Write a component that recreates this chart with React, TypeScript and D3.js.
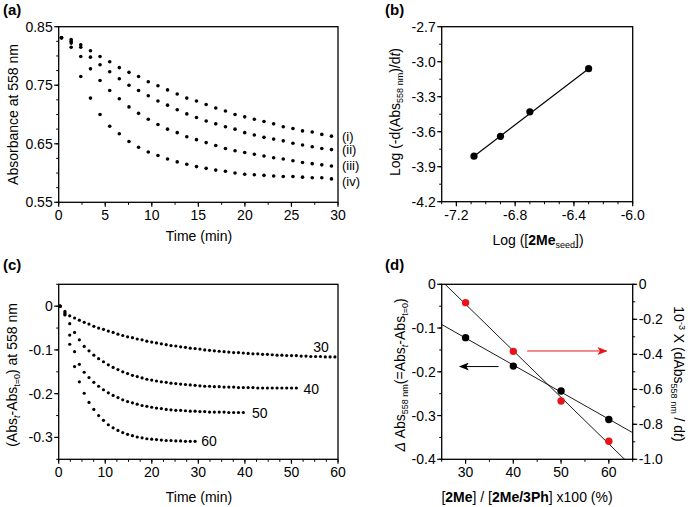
import React from 'react';
import * as d3 from 'd3';

// ---------- Panel (a) data ----------
const timesA = [0.3, 1.34, 2.37, 3.41, 4.44, 5.48, 6.51, 7.55, 8.58, 9.62, 10.66, 11.69, 12.73, 13.76, 14.8, 15.84, 16.87, 17.91, 18.94, 19.98, 21.01, 22.05, 23.09, 24.12, 25.16, 26.19, 27.23, 28.26, 29.3];
const absI = [0.831, 0.828, 0.819, 0.809, 0.799, 0.790, 0.780, 0.772, 0.765, 0.756, 0.749, 0.742, 0.735, 0.728, 0.723, 0.717, 0.711, 0.706, 0.700, 0.696, 0.692, 0.688, 0.684, 0.679, 0.676, 0.672, 0.670, 0.666, 0.663];
const absII = [0.831, 0.825, 0.815, 0.798, 0.785, 0.773, 0.761, 0.750, 0.741, 0.732, 0.723, 0.716, 0.708, 0.701, 0.695, 0.689, 0.684, 0.679, 0.675, 0.669, 0.665, 0.661, 0.658, 0.655, 0.651, 0.648, 0.645, 0.642, 0.640];
const absIII = [0.831, 0.822, 0.799, 0.778, 0.758, 0.741, 0.727, 0.713, 0.702, 0.692, 0.683, 0.675, 0.669, 0.662, 0.657, 0.652, 0.647, 0.642, 0.638, 0.635, 0.632, 0.629, 0.626, 0.624, 0.621, 0.618, 0.616, 0.614, 0.612];
const absIV = [0.831, 0.815, 0.765, 0.728, 0.700, 0.680, 0.667, 0.654, 0.644, 0.636, 0.630, 0.624, 0.619, 0.615, 0.611, 0.608, 0.605, 0.603, 0.600, 0.598, 0.597, 0.596, 0.595, 0.594, 0.594, 0.593, 0.592, 0.592, 0.590];
const seriesNamesA = ['(i)', '(ii)', '(iii)', '(iv)'];
const labelPosA = [0.655, 0.632, 0.605, 0.578];
const xTicksA = [0, 5, 10, 15, 20, 25, 30];
const yTicksA = [0.55, 0.65, 0.75, 0.85];

// ---------- Panel (b) data ----------
const logSeed = [-7.08, -6.90, -6.70, -6.30];
const logRate = [-3.81, -3.64, -3.43, -3.06];
const xTicksB = [-7.2, -6.8, -6.4, -6.0];
const yTicksB = [-4.2, -3.9, -3.6, -3.3, -3.0, -2.7];

// ---------- Panel (c) data ----------
const timesC = [0.3, 1.34, 2.37, 3.41, 4.44, 5.48, 6.51, 7.55, 8.58, 9.62, 10.66, 11.69, 12.73, 13.76, 14.8, 15.84, 16.87, 17.91, 18.94, 19.98, 21.01, 22.05, 23.09, 24.12, 25.16, 26.19, 27.23, 28.26, 29.3, 30.34, 31.37, 32.41, 33.44, 34.48, 35.52, 36.55, 37.59, 38.62, 39.66, 40.69, 41.73, 42.77, 43.8, 44.84, 45.87, 46.91, 47.94, 48.98, 50.02, 51.05, 52.09, 53.12, 54.16, 55.19, 56.23, 57.27, 58.3, 59.34];
const dAbs30 = [0, -0.012, -0.022, -0.027, -0.032, -0.037, -0.041, -0.046, -0.050, -0.053, -0.057, -0.060, -0.064, -0.067, -0.070, -0.072, -0.075, -0.077, -0.080, -0.082, -0.084, -0.086, -0.088, -0.090, -0.091, -0.093, -0.094, -0.096, -0.097, -0.098, -0.100, -0.101, -0.102, -0.103, -0.104, -0.105, -0.106, -0.106, -0.107, -0.108, -0.109, -0.109, -0.110, -0.110, -0.111, -0.112, -0.112, -0.113, -0.113, -0.113, -0.114, -0.114, -0.115, -0.115, -0.115, -0.116, -0.116, -0.116];
const dAbs40 = [0, -0.015, -0.040, -0.060, -0.077, -0.092, -0.102, -0.112, -0.120, -0.127, -0.134, -0.140, -0.145, -0.150, -0.154, -0.158, -0.161, -0.164, -0.167, -0.169, -0.171, -0.173, -0.174, -0.176, -0.177, -0.178, -0.179, -0.180, -0.181, -0.182, -0.183, -0.183, -0.184, -0.184, -0.185, -0.185, -0.185, -0.186, -0.186, -0.186, -0.186, -0.187, -0.187, -0.187, -0.187, -0.187, -0.187, -0.187, -0.187, -0.187];
const dAbs50 = [0, -0.018, -0.066, -0.104, -0.133, -0.151, -0.163, -0.174, -0.183, -0.191, -0.198, -0.204, -0.209, -0.214, -0.218, -0.221, -0.224, -0.227, -0.229, -0.231, -0.233, -0.234, -0.236, -0.237, -0.238, -0.238, -0.239, -0.240, -0.240, -0.241, -0.241, -0.242, -0.242, -0.242, -0.242, -0.243, -0.243, -0.243, -0.243];
const dAbs60 = [0, -0.020, -0.087, -0.138, -0.173, -0.199, -0.220, -0.236, -0.250, -0.261, -0.271, -0.278, -0.284, -0.289, -0.293, -0.296, -0.299, -0.301, -0.303, -0.304, -0.305, -0.306, -0.307, -0.307, -0.308, -0.308, -0.309, -0.309, -0.309];
const seriesNamesC = ['30', '40', '50', '60'];
const labelXC = [54.7, 52.6, 41.5, 30.6];
const labelYC = [-0.1045, -0.200, -0.255, -0.320];
const xTicksC = [0, 10, 20, 30, 40, 50, 60];
const yTicksC = [-0.3, -0.2, -0.1, 0];

// ---------- Panel (d) data ----------
const ratioD = [30, 40, 50, 60];
const deltaAbsD = [-0.122, -0.187, -0.244, -0.309];
const rateD = [-0.105, -0.383, -0.667, -0.897];
const xTicksD = [30, 40, 50, 60];
const yTicksDL = [-0.4, -0.3, -0.2, -0.1, 0];
const yTicksDR = [-1.0, -0.8, -0.6, -0.4, -0.2, 0];
const arrowBlack = { from: 36.9, to: 28.8, y: -0.188 };
const arrowRed = { from: 42.9, to: 59.5, y: -0.381 };

const FONT = "'Liberation Sans', Arial, Helvetica, sans-serif";
const RED = '#e8141b';

type Scale = d3.ScaleLinear<number, number>;

function fit(xs: number[], ys: number[]) {
  const mx = d3.mean(xs)!, my = d3.mean(ys)!;
  let num = 0, den = 0;
  xs.forEach((x, i) => { num += (x - mx) * (ys[i] - my); den += (x - mx) * (x - mx); });
  const m = num / den;
  return (x: number) => my + m * (x - mx);
}

function Frame({ x, y }: { x: Scale; y: Scale }) {
  const [x0, x1] = x.range();
  const [y1, y0] = y.range();
  return <rect x={x0} y={y0} width={x1 - x0} height={y1 - y0} fill="none" stroke="#000" strokeWidth={1.3} />;
}

function XAxis({ x, y, majors, minors, fmt }: { x: Scale; y: Scale; majors: number[]; minors: number[]; fmt: (v: number) => string }) {
  const yb = y.range()[0];
  return (
    <g>
      {minors.map((v, i) => <line key={'m' + i} x1={x(v)} x2={x(v)} y1={yb} y2={yb + 2.5} stroke="#000" strokeWidth={1} />)}
      {majors.map((v, i) => (
        <g key={i}>
          <line x1={x(v)} x2={x(v)} y1={yb} y2={yb + 4.5} stroke="#000" strokeWidth={1.2} />
          <text x={x(v)} y={yb + 18} textAnchor="middle" fontSize={14}>{fmt(v)}</text>
        </g>
      ))}
    </g>
  );
}

function YAxis({ x, y, majors, minors, fmt, right }: { x: Scale; y: Scale; majors: number[]; minors: number[]; fmt: (v: number) => string; right?: boolean }) {
  const xb = right ? x.range()[1] : x.range()[0];
  const s = right ? 1 : -1;
  return (
    <g>
      {minors.map((v, i) => <line key={'m' + i} x1={xb} x2={xb + s * 2.5} y1={y(v)} y2={y(v)} stroke="#000" strokeWidth={1} />)}
      {majors.map((v, i) => (
        <g key={i}>
          <line x1={xb} x2={xb + s * 4.5} y1={y(v)} y2={y(v)} stroke="#000" strokeWidth={1.2} />
          <text x={xb + s * 6} y={y(v)} dy="0.36em" textAnchor={right ? 'start' : 'end'} fontSize={14}>{fmt(v)}</text>
        </g>
      ))}
    </g>
  );
}

const minus = (s: string) => s;

export default function App() {
  // scales
  const xA = d3.scaleLinear().domain([0, 30]).range([58.7, 338]);
  const yA = d3.scaleLinear().domain([0.55, 0.85]).range([202.3, 26.7]);
  const xB = d3.scaleLinear().domain([-7.3, -6.0]).range([441.7, 632.7]);
  const yB = d3.scaleLinear().domain([-4.2, -2.7]).range([201.7, 26.7]);
  const xC = d3.scaleLinear().domain([0, 60]).range([58.7, 338]);
  const yC = d3.scaleLinear().domain([-0.35, 0.05]).range([459.3, 284.3]);
  const xD = d3.scaleLinear().domain([25, 65]).range([441.7, 632.7]);
  const yDL = d3.scaleLinear().domain([-0.4, 0]).range([459.3, 284.3]);
  const yDR = d3.scaleLinear().domain([-1.0, 0]).range([459.3, 284.3]);

  const seriesA = [absI, absII, absIII, absIV];
  const seriesC = [dAbs30, dAbs40, dAbs50, dAbs60];

  const fitBlack = fit(ratioD, deltaAbsD);
  const fitRed = fit(ratioD, rateD);
  const dDom = xD.domain();

  const fmt2 = (v: number) => v.toFixed(2);
  const fmt1 = (v: number) => (v === 0 ? '0' : v.toFixed(1));
  const fmt0 = (v: number) => String(v);

  return (
    <svg width={688} height={507} style={{ position: 'absolute', left: 0, top: 0, background: '#fff' }} fontFamily={FONT}>
      <defs>
        <clipPath id="clipD">
          <rect x={441.7} y={284.3} width={191} height={175} />
        </clipPath>
        <marker id="arrB" viewBox="0 0 10 8" refX={9} refY={4} markerWidth={10} markerHeight={8} markerUnits="userSpaceOnUse" orient="auto">
          <path d="M0,0 L10,4 L0,8 L2.5,4 Z" fill="#000" />
        </marker>
        <marker id="arrR" viewBox="0 0 10 8" refX={9} refY={4} markerWidth={10} markerHeight={8} markerUnits="userSpaceOnUse" orient="auto">
          <path d="M0,0 L10,4 L0,8 L2.5,4 Z" fill={RED} />
        </marker>
      </defs>
      <rect x={0} y={0} width={688} height={507} fill="#fff" />

      {/* ===== Panel (a) ===== */}
      <text x={3} y={15} fontSize={15} fontWeight="bold">(a)</text>
      <Frame x={xA} y={yA} />
      <XAxis x={xA} y={yA} majors={xTicksA} minors={d3.range(0, 30.01, 2.5)} fmt={fmt0} />
      <YAxis x={xA} y={yA} majors={yTicksA} minors={d3.range(0.55, 0.851, 0.025)} fmt={fmt2} />
      {seriesA.map((s, si) => (
        <g key={si}>
          {s.map((v, i) => <circle key={i} cx={xA(timesA[i])} cy={yA(v)} r={1.8} fill="#000" />)}
          <text x={342} y={yA(labelPosA[si])} fontSize={13}>{seriesNamesA[si]}</text>
        </g>
      ))}
      <text x={199} y={241} textAnchor="middle" fontSize={14}>Time (min)</text>
      <text transform={`translate(17.5,${(yA.range()[0] + yA.range()[1]) / 2}) rotate(-90)`} textAnchor="middle" fontSize={14}>Absorbance at 558 nm</text>

      {/* ===== Panel (b) ===== */}
      <text x={385} y={15} fontSize={15} fontWeight="bold">(b)</text>
      <Frame x={xB} y={yB} />
      <XAxis x={xB} y={yB} majors={xTicksB} minors={d3.range(-7.3, -5.99, 0.1)} fmt={(v) => minus(v.toFixed(1))} />
      <YAxis x={xB} y={yB} majors={yTicksB} minors={d3.range(-4.2, -2.69, 0.15)} fmt={(v) => minus(v.toFixed(1))} />
      <line x1={xB(logSeed[0])} y1={yB(logRate[0])} x2={xB(logSeed[3])} y2={yB(logRate[3])} stroke="#000" strokeWidth={1.2} />
      {logSeed.map((v, i) => <circle key={i} cx={xB(v)} cy={yB(logRate[i])} r={3.6} fill="#000" />)}
      <text x={538} y={245} textAnchor="middle" fontSize={14}>
        Log ([<tspan fontWeight="bold">2Me</tspan><tspan fontSize={9} dy={3}>seed</tspan><tspan dy={-3}>])</tspan>
      </text>
      <text transform={`translate(400,112) rotate(-90)`} textAnchor="middle" fontSize={14}>
        Log (-d(Abs<tspan fontSize={9} dy={3}>558 nm</tspan><tspan dy={-3}>)/d</tspan><tspan fontStyle="italic">t</tspan>)
      </text>

      {/* ===== Panel (c) ===== */}
      <text x={3} y={270} fontSize={15} fontWeight="bold">(c)</text>
      <Frame x={xC} y={yC} />
      <XAxis x={xC} y={yC} majors={xTicksC} minors={d3.range(0, 60.01, 2.5)} fmt={fmt0} />
      <YAxis x={xC} y={yC} majors={yTicksC} minors={d3.range(-0.35, 0.051, 0.05)} fmt={fmt1} />
      {seriesC.map((s, si) => (
        <g key={si}>
          {s.map((v, i) => <circle key={i} cx={xC(timesC[i])} cy={yC(v)} r={1.6} fill="#000" />)}
          <text x={xC(labelXC[si])} y={yC(labelYC[si])} fontSize={14}>{seriesNamesC[si]}</text>
        </g>
      ))}
      <text x={199} y={502} textAnchor="middle" fontSize={14}>Time (min)</text>
      <text transform={`translate(17,375) rotate(-90)`} textAnchor="middle" fontSize={14}>
        (Abs<tspan fontSize={9} dy={3} fontStyle="italic">t</tspan><tspan dy={-3}>-Abs</tspan><tspan fontSize={9} dy={3}>t=0</tspan><tspan dy={-3}>) at 558 nm</tspan>
      </text>

      {/* ===== Panel (d) ===== */}
      <text x={385} y={270} fontSize={15} fontWeight="bold">(d)</text>
      <Frame x={xD} y={yDL} />
      <XAxis x={xD} y={yDL} majors={xTicksD} minors={d3.range(25, 65.01, 5)} fmt={fmt0} />
      <YAxis x={xD} y={yDL} majors={yTicksDL} minors={d3.range(-0.4, 0.001, 0.05)} fmt={fmt1} />
      <YAxis x={xD} y={yDR} majors={yTicksDR} minors={d3.range(-1.0, 0.001, 0.1)} fmt={fmt1} right />
      <g clipPath="url(#clipD)">
        <line x1={xD(dDom[0])} y1={yDL(fitBlack(dDom[0]))} x2={xD(dDom[1])} y2={yDL(fitBlack(dDom[1]))} stroke="#000" strokeWidth={0.9} />
        <line x1={xD(dDom[0])} y1={yDR(fitRed(dDom[0]))} x2={xD(dDom[1])} y2={yDR(fitRed(dDom[1]))} stroke="#000" strokeWidth={0.9} />
      </g>
      {ratioD.map((v, i) => <circle key={'b' + i} cx={xD(v)} cy={yDL(deltaAbsD[i])} r={3.7} fill="#000" />)}
      {ratioD.map((v, i) => <circle key={'r' + i} cx={xD(v)} cy={yDR(rateD[i])} r={3.7} fill={RED} />)}
      <line x1={xD(arrowBlack.from)} x2={xD(arrowBlack.to)} y1={yDL(arrowBlack.y)} y2={yDL(arrowBlack.y)} stroke="#000" strokeWidth={1} markerEnd="url(#arrB)" />
      <line x1={xD(arrowRed.from)} x2={xD(arrowRed.to)} y1={yDR(arrowRed.y)} y2={yDR(arrowRed.y)} stroke={RED} strokeWidth={1} markerEnd="url(#arrR)" />
      <text x={527} y={502} textAnchor="middle" fontSize={14}>
        [<tspan fontWeight="bold">2Me</tspan>] / [<tspan fontWeight="bold">2Me/3Ph</tspan>] x100 (%)
      </text>
      <text transform={`translate(405,375) rotate(-90)`} textAnchor="middle" fontSize={14}>
        <tspan fontStyle="italic">Δ</tspan> Abs<tspan fontSize={9} dy={3}>558 nm</tspan><tspan dy={-3}>(=Abs</tspan><tspan fontSize={9} dy={3} fontStyle="italic">t</tspan><tspan dy={-3}>-Abs</tspan><tspan fontSize={9} dy={3}>t=0</tspan><tspan dy={-3}>)</tspan>
      </text>
      <text transform={`translate(674,374) rotate(90)`} textAnchor="middle" fontSize={14}>
        10<tspan fontSize={9} dy={-5}>-3</tspan><tspan dy={5}> X (dAbs</tspan><tspan fontSize={9} dy={3}>558 nm</tspan><tspan dy={-3}> / d</tspan><tspan fontStyle="italic">t</tspan>)
      </text>
    </svg>
  );
}
